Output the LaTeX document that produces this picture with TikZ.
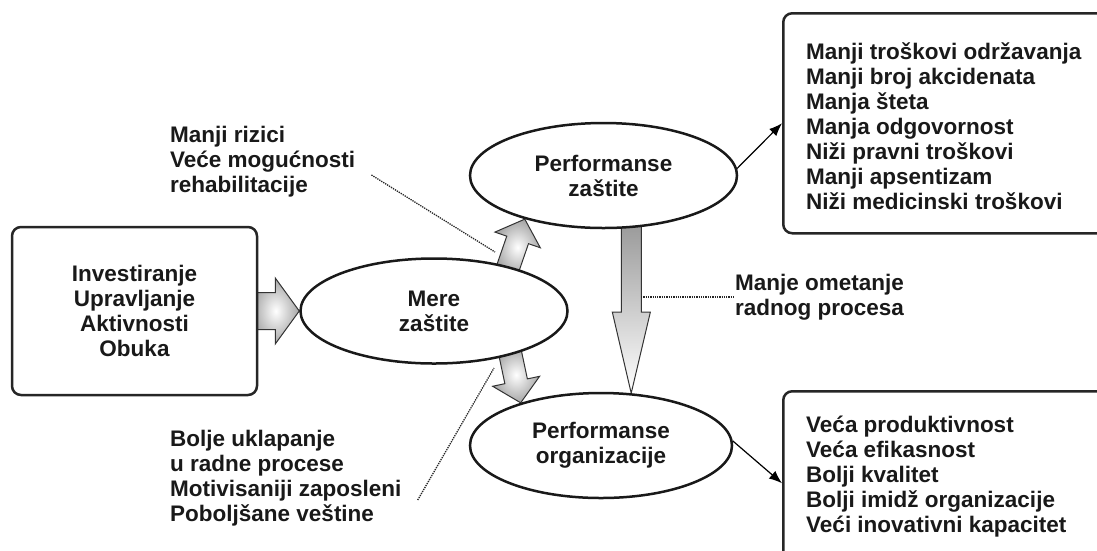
\documentclass[tikz,border=0pt]{standalone}
\usepackage{fontspec}
\setmainfont{Liberation Sans}
\usetikzlibrary{shapes.geometric, arrows.meta, calc, backgrounds}

\tikzset{
  every node/.style={font=\fontsize{22.5}{25}\selectfont\bfseries, text=black!90},
  frame/.style={draw=black!85, line width=2.5pt, rounded corners=9pt, fill=white},
  goal/.style={ellipse, draw=black!90, line width=2.5pt, fill=white, minimum width=267pt, minimum height=105pt, align=center, inner sep=0pt},
  list/.style={align=left, inner sep=0pt},
  link/.style={line width=1.2pt, -{Latex[length=13pt, width=10pt]}},
  leader/.style={densely dotted, line width=1.3pt, draw=black!85},
  shaded/.style={draw=black!80, line width=1pt, shading=radial, inner color=white, outer color=gray!70},
}

% block arrow: [style]{from}{to}{shaft half width}{head half width}{head length}
\newcommand{\blockarrow}[6][]{%
  \coordinate (ba) at ($(#2)!-6pt!(#3)$);
  \coordinate (bh) at ($(#3)!#6!(#2)$);
  \path[shaded, #1] ($(ba)!#4!90:(#3)$) -- ($(bh)!#4!90:(#3)$) -- ($(bh)!#5!90:(#3)$) -- (#3)
    -- ($(bh)!#5!-90:(#3)$) -- ($(bh)!#4!-90:(#3)$) -- ($(ba)!#4!-90:(#3)$) -- cycle;
}

\begin{document}
\begin{tikzpicture}[x=1pt, y=-1pt]
\path[use as bounding box, clip] (0,0) rectangle (1097,550);

\node[frame, minimum width=245pt, minimum height=168pt, align=center] (inputs) at (134.5,311) {Investiranje\\Upravljanje\\Aktivnosti\\Obuka};
\node[goal] (mere) at (434,311) {Mere\\zaštite};
\node[goal] (perfz) at (603.5,175.5) {Performanse\\zaštite};
\node[goal, minimum width=262pt] (perfo) at (601,445.5) {Performanse\\organizacije};

\node[frame, anchor=north west, minimum width=330pt, minimum height=220pt] (costs) at (782,12) {};
\node[list, anchor=west] (costlist) at (806,126) {Manji troškovi održavanja\\Manji broj akcidenata\\Manja šteta\\Manja odgovornost\\Niži pravni troškovi\\Manji apsentizam\\Niži medicinski troškovi};
\node[frame, anchor=north west, minimum width=330pt, minimum height=184pt] (gains) at (782,390) {};
\node[list, anchor=west] (gainlist) at (806,477) {Veća produktivnost\\Veća efikasnost\\Bolji kvalitet\\Bolji imidž organizacije\\Veći inovativni kapacitet};

\node[list, anchor=west] (risknote) at (170,162) {Manji rizici\\Veće mogućnosti\\rehabilitacije};
\node[list, anchor=west] (fitnote) at (170,478) {Bolje uklapanje\\u radne procese\\Motivisaniji zaposleni\\Poboljšane veštine};
\node[list, anchor=west] (flownote) at (735,297) {Manje ometanje\\radnog procesa};

\begin{scope}[on background layer]
\blockarrow{inputs.east}{mere.west}{18.5pt}{33pt}{24pt}
\blockarrow{mere.31}{perfz.209}{11.5pt}{24pt}{22pt}
\blockarrow{mere.-30}{perfo.152}{11.5pt}{24pt}{22pt}
\blockarrow[shading=axis, top color=gray!80, bottom color=white]{perfz.-62.7}{perfo.60.5}{10pt}{19pt}{81pt}
\end{scope}

\draw[link] (perfz.3) -- (costs.west);
\draw[link] (perfo.2) -- (gains.west);

\coordinate (riskend) at (495,252);
\draw[leader] ([shift={(16,13)}]risknote.east) -- (riskend);
\coordinate (shaftpt) at (641,297);
\draw[leader] (shaftpt) -- (flownote.west);
\coordinate (fitend) at (494,368);
\draw[leader] ([shift={(16,22)}]fitnote.east) -- (fitend);
\end{tikzpicture}
\end{document}
